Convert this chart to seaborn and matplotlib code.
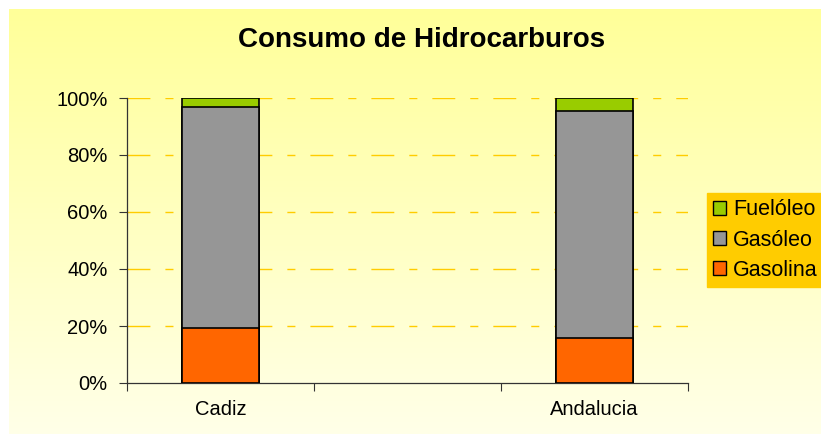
import numpy as np
import pandas as pd
import matplotlib
matplotlib.use("Agg")
import matplotlib.pyplot as plt
import seaborn as sns
from matplotlib.patches import Patch
from matplotlib.ticker import PercentFormatter

# data (shares of total consumption, %)
categories = ['Cadiz', '', 'Andalucia']
regions = ['Cadiz', 'Andalucia']
gasolina = [19.4, 15.9]
gasoleo = [77.5, 79.4]
fueloleo = [3.1, 4.7]
series_names = ['Gasolina', 'Gasóleo', 'Fuelóleo']
series_colors = ['#FF6600', '#969696', '#99CC00']

sns.set_theme(style='white')
plt.rcParams['font.family'] = ['Liberation Sans', 'DejaVu Sans']

fig = plt.figure(figsize=(8.21, 4.37), dpi=100)

# gradient background of the chart area
bg = fig.add_axes([9 / 821, 3 / 437, 1 - 9 / 821, 1 - 12 / 437])
grad = np.linspace(0, 1, 256).reshape(-1, 1)
cmap = matplotlib.colors.LinearSegmentedColormap.from_list('bg', ['#FFFF99', '#FFFFE8'])
bg.imshow(grad, aspect='auto', cmap=cmap, extent=[0, 1, 0, 1], origin='upper')
bg.axis('off')

ax = fig.add_axes([127 / 821, 1 - 383 / 437, (688 - 127) / 821, (383 - 98) / 437])
ax.patch.set_alpha(0)

df = pd.DataFrame({'region': regions, 'Gasolina': gasolina,
                   'Gasóleo': gasoleo, 'Fuelóleo': fueloleo})
df['c1'] = df['Gasolina']
df['c2'] = df['c1'] + df['Gasóleo']
df['c3'] = df['c2'] + df['Fuelóleo']

# draw the stacks from the top down
for col, color in zip(['c3', 'c2', 'c1'], series_colors[::-1]):
    sns.barplot(data=df, x='region', y=col, order=categories, color=color,
                width=0.41, edgecolor='black', linewidth=1.2, saturation=1, ax=ax, zorder=3)

ax.set_xlim(-0.5, 2.5)
ax.set_ylim(0, 100)
ax.set_xlabel('')
ax.set_ylabel('')
ax.set_yticks([0, 20, 40, 60, 80, 100])
ax.yaxis.set_major_formatter(PercentFormatter(decimals=0))
for yv in [20, 40, 60, 80, 100]:
    ax.axhline(yv, color='#FFCC00', lw=1, ls=(0, (16.5, 10.8, 5.8, 10.8)), zorder=1)

# category boundaries as ticks, labels centred between them
ax.set_xticks([-0.5, 0.5, 1.5, 2.5])
ax.set_xticklabels([])
ax.set_xticks([0, 2], minor=True)
ax.set_xticklabels(['Cadiz', 'Andalucia'], minor=True)
ax.tick_params(axis='x', which='major', bottom=True, length=6, width=0.8, color='#333333')
ax.tick_params(axis='x', which='minor', bottom=False, length=0, pad=12, labelsize=14.5,
               labelcolor='black')
ax.tick_params(axis='y', left=True, length=6, width=0.8, color='#333333', pad=8, labelsize=14.5,
               labelcolor='black')

for s in ['top', 'right']:
    ax.spines[s].set_visible(False)
for s in ['left', 'bottom']:
    ax.spines[s].set_color('#333333')
    ax.spines[s].set_linewidth(0.9)

fig.text(0.513, 0.908, 'Consumo de Hidrocarburos', ha='center', va='center',
         fontsize=20, fontweight='bold', color='black')

handles = [Patch(facecolor=c, edgecolor='black', label=n)
           for n, c in zip(series_names[::-1], series_colors[::-1])]
leg = fig.legend(handles=handles, loc='upper left', bbox_to_anchor=(707 / 821, 1 - 193 / 437),
                 frameon=True, fontsize=15.5, handlelength=0.6, handleheight=0.6,
                 handletextpad=0.3, labelspacing=0.42, borderpad=0.3, fancybox=False,
                 borderaxespad=0)
leg.get_frame().set_facecolor('#FFCC00')
leg.get_frame().set_edgecolor('#FFCC00')
leg.get_frame().set_alpha(1)
for t in leg.get_texts():
    t.set_color('black')

fig.savefig('out.png', dpi=100)
